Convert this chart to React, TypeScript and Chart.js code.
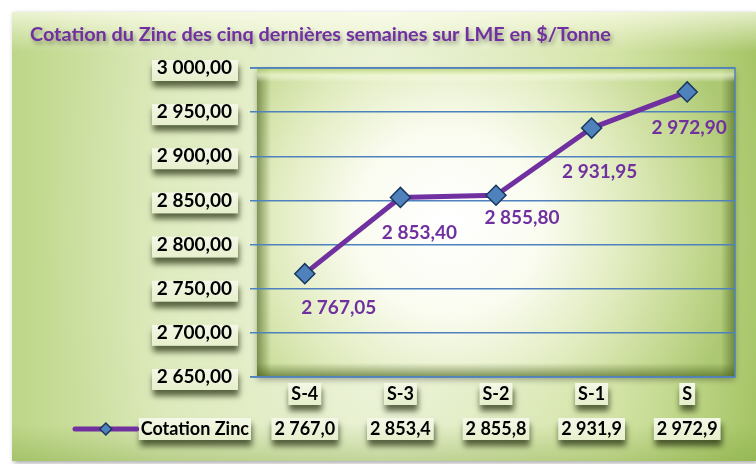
import React, { useEffect, useRef } from "react";
import { Chart, registerables } from "chart.js";

Chart.register(...registerables);

const chartTitle = "Cotation du Zinc des cinq dernières semaines sur LME en $/Tonne";
const seriesName = "Cotation Zinc";
const categories = ["S-4", "S-3", "S-2", "S-1", "S"];
const zincValues = [2767.05, 2853.4, 2855.8, 2931.95, 2972.9];
const yMin = 2650;
const yMax = 3000;
const yStep = 50;

// label offsets (style) relative to each point
const labelDx = [34, 19, 26, 8, 2];
const labelDy = [34, 35, 23, 44, 36];

const FONT = "Lato, 'Liberation Sans', sans-serif";
const PURPLE = "#7030A0";
const BLUE = "#4F81BD";

function fmt(v: number, dec: number) {
  const fixed = v.toFixed(dec);
  const [ip, dp] = fixed.split(".");
  const ipS = ip.replace(/\B(?=(\d{3})+(?!\d))/g, " ");
  return dp !== undefined ? ipS + "," + dp : ipS;
}
function fmtTrunc1(v: number) {
  const t = Math.floor(v * 10 + 1e-6) / 10;
  return fmt(t, 1);
}

function box(ctx: CanvasRenderingContext2D, x: number, y: number, w: number, h: number) {
  ctx.save();
  ctx.shadowColor = "rgba(30,40,10,0.7)";
  ctx.shadowBlur = 6;
  ctx.shadowOffsetX = 1;
  ctx.shadowOffsetY = 6;
  const g = ctx.createLinearGradient(0, y, 0, y + h);
  g.addColorStop(0, "#f4f8e8");
  g.addColorStop(1, "#e6efcc");
  ctx.fillStyle = g;
  ctx.fillRect(x, y, w, h);
  ctx.restore();
}

const decor = {
  id: "decor",
  beforeDraw(chart: any) {
    const { ctx, chartArea: ca, scales } = chart;
    const W = chart.width;
    const H = chart.height;
    ctx.save();
    ctx.fillStyle = "#ffffff";
    ctx.fillRect(0, 0, W, H);

    // outer panel
    const px = 12, py = 12, pw = W - px, ph = H - py - 3;
    ctx.save();
    ctx.shadowColor = "rgba(0,0,0,0.35)";
    ctx.shadowBlur = 5;
    ctx.shadowOffsetX = 2;
    ctx.shadowOffsetY = 2;
    let g = ctx.createLinearGradient(px, 0, W, 0);
    g.addColorStop(0, "#bdd688");
    g.addColorStop(0.2, "#dae8b6");
    g.addColorStop(0.5, "#e4eec8");
    g.addColorStop(0.8, "#cfe19c");
    g.addColorStop(1, "#a6c566");
    ctx.fillStyle = g;
    ctx.fillRect(px, py, pw, ph);
    ctx.restore();
    let rg = ctx.createRadialGradient(420, 230, 10, 420, 230, 380);
    rg.addColorStop(0, "rgba(255,255,255,0.55)");
    rg.addColorStop(0.6, "rgba(255,255,255,0.15)");
    rg.addColorStop(1, "rgba(255,255,255,0)");
    ctx.fillStyle = rg;
    ctx.fillRect(px, py, pw, ph);
    g = ctx.createLinearGradient(0, py, 0, py + 40);
    g.addColorStop(0, "rgba(255,255,240,0.7)");
    g.addColorStop(1, "rgba(255,255,240,0)");
    ctx.fillStyle = g;
    ctx.fillRect(px, py, pw, 40);
    g = ctx.createLinearGradient(0, H - 3, 0, H - 40);
    g.addColorStop(0, "rgba(120,160,50,0.35)");
    g.addColorStop(1, "rgba(120,160,50,0)");
    ctx.fillStyle = g;
    ctx.fillRect(px, H - 40, pw, 37);

    // title
    ctx.save();
    ctx.font = `bold 18px ${FONT}`;
    const tw = ctx.measureText(chartTitle).width;
    const size = Math.min(21, (18 * 581) / tw);
    ctx.font = `bold ${size}px ${FONT}`;
    ctx.fillStyle = PURPLE;
    ctx.textAlign = "left";
    ctx.textBaseline = "middle";
    ctx.shadowColor = "rgba(0,0,0,0.35)";
    ctx.shadowBlur = 4;
    ctx.shadowOffsetX = 2;
    ctx.shadowOffsetY = 3;
    ctx.fillText(chartTitle, 30, 35);
    ctx.restore();

    // plot area
    const cw = ca.right - ca.left;
    const ch = ca.bottom - ca.top;
    ctx.save();
    ctx.shadowColor = "rgba(0,0,0,0.3)";
    ctx.shadowBlur = 6;
    ctx.shadowOffsetY = 3;
    rg = ctx.createRadialGradient(ca.left + cw * 0.4, ca.top + ch * 0.5, 5, ca.left + cw * 0.4, ca.top + ch * 0.5, cw * 0.62);
    rg.addColorStop(0, "#ffffff");
    rg.addColorStop(0.3, "#fafcf0");
    rg.addColorStop(0.6, "#e0ebbd");
    rg.addColorStop(0.85, "#c2d78e");
    rg.addColorStop(1, "#adc873");
    ctx.fillStyle = rg;
    ctx.fillRect(ca.left, ca.top, cw, ch);
    ctx.restore();
    const bev = 14;
    g = ctx.createLinearGradient(ca.left, 0, ca.left + bev, 0);
    g.addColorStop(0, "rgba(70,95,25,0.6)");
    g.addColorStop(1, "rgba(70,95,25,0)");
    ctx.fillStyle = g;
    ctx.fillRect(ca.left, ca.top, bev, ch);
    g = ctx.createLinearGradient(ca.right, 0, ca.right - bev, 0);
    g.addColorStop(0, "rgba(70,95,25,0.6)");
    g.addColorStop(1, "rgba(70,95,25,0)");
    ctx.fillStyle = g;
    ctx.fillRect(ca.right - bev, ca.top, bev, ch);
    g = ctx.createLinearGradient(0, ca.bottom, 0, ca.bottom - bev);
    g.addColorStop(0, "rgba(70,95,25,0.65)");
    g.addColorStop(1, "rgba(70,95,25,0)");
    ctx.fillStyle = g;
    ctx.fillRect(ca.left, ca.bottom - bev, cw, bev);
    g = ctx.createLinearGradient(0, ca.top, 0, ca.top + bev);
    g.addColorStop(0, "rgba(175,205,110,0.8)");
    g.addColorStop(0.5, "rgba(240,248,210,0.7)");
    g.addColorStop(1, "rgba(255,255,255,0)");
    ctx.fillStyle = g;
    ctx.fillRect(ca.left, ca.top, cw, bev);

    // y label boxes
    const ys = scales.y;
    ys.ticks.forEach((t: any) => {
      const y = ys.getPixelForValue(t.value);
      box(ctx, 152, y - 8, 86, 21);
    });
    // category label boxes
    const xs = scales.x;
    ctx.font = `bold 18px ${FONT}`;
    categories.forEach((c, i) => {
      const x = xs.getPixelForValue(i);
      const w = ctx.measureText(c).width + 6;
      box(ctx, x - w / 2, 383, w, 22);
    });
    ctx.restore();
  },
  beforeDatasetsDraw(chart: any) {
    const { ctx, chartArea: ca } = chart;
    ctx.save();
    ctx.strokeStyle = BLUE;
    ctx.lineWidth = 1.5;
    ctx.beginPath();
    ctx.moveTo(ca.left - 7, ca.top);
    ctx.lineTo(ca.right, ca.top);
    ctx.lineTo(ca.right, ca.bottom);
    ctx.lineTo(ca.left - 7, ca.bottom);
    ctx.stroke();
    ctx.restore();
  },
  afterDatasetsDraw(chart: any) {
    const { ctx } = chart;
    const meta = chart.getDatasetMeta(0);
    ctx.save();
    ctx.font = `bold 19px ${FONT}`;
    ctx.fillStyle = PURPLE;
    ctx.textAlign = "center";
    ctx.textBaseline = "middle";
    meta.data.forEach((el: any, i: number) => {
      ctx.fillText(fmt(zincValues[i], 2), el.x + labelDx[i], el.y + labelDy[i]);
    });
    ctx.restore();
  },
  afterDraw(chart: any) {
    const { ctx, scales } = chart;
    const xs = scales.x;
    const rowY = 429;
    ctx.save();
    ctx.font = `bold 18px ${FONT}`;
    // legend key + series name
    const nameW = ctx.measureText(seriesName).width;
    const nameX = 249 - nameW;
    box(ctx, nameX - 2, rowY - 11, nameW + 4, 22);
    zincValues.forEach((v, i) => {
      const s = fmtTrunc1(v);
      const w = ctx.measureText(s).width + 6;
      box(ctx, xs.getPixelForValue(i) - w / 2, rowY - 11, w, 22);
    });
    ctx.strokeStyle = PURPLE;
    ctx.lineWidth = 5;
    ctx.lineCap = "round";
    ctx.beginPath();
    ctx.moveTo(75, rowY);
    ctx.lineTo(nameX - 4, rowY);
    ctx.stroke();
    const dx = (75 + nameX - 4) / 2;
    ctx.beginPath();
    ctx.moveTo(dx, rowY - 6);
    ctx.lineTo(dx + 6, rowY);
    ctx.lineTo(dx, rowY + 6);
    ctx.lineTo(dx - 6, rowY);
    ctx.closePath();
    ctx.fillStyle = BLUE;
    ctx.fill();
    ctx.strokeStyle = "#17375E";
    ctx.lineWidth = 1.5;
    ctx.stroke();

    ctx.fillStyle = "#000000";
    ctx.textBaseline = "middle";
    ctx.textAlign = "left";
    ctx.fillText(seriesName, nameX, rowY);
    ctx.textAlign = "center";
    zincValues.forEach((v, i) => {
      ctx.fillText(fmtTrunc1(v), xs.getPixelForValue(i), rowY);
    });
    ctx.restore();
  },
};

export default function App() {
  const ref = useRef<HTMLCanvasElement | null>(null);
  useEffect(() => {
    if (!ref.current) return;
    const chart = new Chart(ref.current, {
      type: "line",
      data: {
        labels: categories,
        datasets: [
          {
            label: seriesName,
            data: zincValues,
            borderColor: PURPLE,
            borderWidth: 5,
            pointStyle: "rectRot",
            pointRadius: 10,
            pointBackgroundColor: BLUE,
            pointBorderColor: "#17375E",
            pointBorderWidth: 1.5,
            tension: 0,
          },
        ],
      },
      options: {
        animation: false,
        responsive: false,
        devicePixelRatio: 1,
        layout: { padding: { left: 0, top: 68, right: 21, bottom: 0 } },
        plugins: {
          legend: { display: false },
          title: { display: false },
          tooltip: { enabled: false },
        },
        scales: {
          x: {
            type: "category",
            offset: true,
            grid: { display: false, drawTicks: false },
            border: { display: false },
            ticks: {
              color: "#000000",
              font: { family: FONT, size: 18, weight: "bold" },
              padding: 6,
              maxRotation: 0,
            },
            afterFit: (s: any) => {
              s.height = 87;
            },
          },
          y: {
            min: yMin,
            max: yMax,
            border: { display: false },
            grid: { color: BLUE, lineWidth: 1.5, tickLength: 7 },
            ticks: {
              stepSize: yStep,
              color: "#000000",
              padding: 18,
              font: { family: FONT, size: 19, weight: "bold" },
              callback: (v: any) => fmt(Number(v), 2),
            },
            afterFit: (s: any) => {
              s.width = 257;
            },
          },
        },
      },
      plugins: [decor],
    } as any);
    return () => chart.destroy();
  }, []);
  return (
    <div style={{ position: "absolute", left: 0, top: 0, width: 756, height: 464 }}>
      <canvas ref={ref} width={756} height={464} />
    </div>
  );
}
